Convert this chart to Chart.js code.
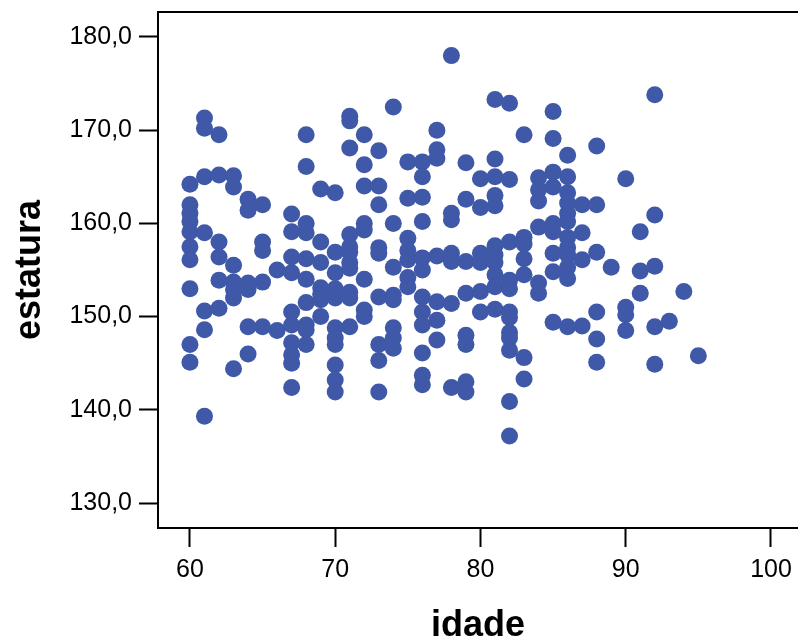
<!DOCTYPE html>
<html>
<head>
<meta charset="utf-8">
<script src="https://cdn.jsdelivr.net/npm/chart.js@4.4.1/dist/chart.umd.min.js"></script>
<style>
  html, body { margin: 0; padding: 0; background: #fff; }
</style>
</head>
<body>
<canvas id="scatterChart" width="798" height="643"></canvas>
<script>
const idade = [
  60, 60, 60, 60, 60, 60, 60, 60, 60, 60,
  61, 61, 61, 61, 61, 61, 61,
  62, 62, 62, 62, 62, 62,
  63, 63, 63, 63, 63, 63, 63,
  64, 64, 64, 64, 64, 64,
  65, 65, 65, 65, 65,
  66, 66,
  67, 67, 67, 67, 67, 67, 67, 67, 67, 67,
  68, 68, 68, 68, 68, 68, 68, 68, 68, 68,
  69, 69, 69, 69, 69, 69, 69,
  70, 70, 70, 70, 70, 70, 70, 70, 70, 70, 70,
  71, 71, 71, 71, 71, 71, 71, 71, 71, 71, 71,
  72, 72, 72, 72, 72, 72, 72, 72,
  73, 73, 73, 73, 73, 73, 73, 73, 73,
  74, 74, 74, 74, 74, 74, 74, 74,
  75, 75, 75, 75, 75, 75, 75,
  76, 76, 76, 76, 76, 76, 76, 76, 76, 76, 76, 76,
  77, 77, 77, 77, 77, 77, 77,
  78, 78, 78, 78, 78, 78, 78,
  79, 79, 79, 79, 79, 79, 79, 79,
  80, 80, 80, 80, 80, 80,
  81, 81, 81, 81, 81, 81, 81, 81, 81, 81, 81,
  82, 82, 82, 82, 82, 82, 82, 82, 82, 82, 82, 82,
  83, 83, 83, 83, 83, 83, 83,
  84, 84, 84, 84, 84, 84,
  85, 85, 85, 85, 85, 85, 85, 85, 85,
  86, 86, 86, 86, 86, 86, 86, 86, 86, 86, 86, 86,
  87, 87, 87, 87,
  88, 88, 88, 88, 88, 88,
  89,
  90, 90, 90, 90,
  91, 91, 91,
  92, 92, 92, 92, 92,
  93,
  94,
  95
];

const estatura = [
  164.2, 162.0, 161.1, 160.2, 159.1, 157.5, 156.1, 153.0, 147.0, 145.1,
  171.3, 170.2, 165.0, 159.0, 150.6, 148.6, 139.3,
  169.5, 165.2, 158.0, 156.4, 153.9, 150.9,
  165.1, 163.9, 155.5, 153.7, 152.9, 152.0, 144.4,
  162.6, 161.4, 153.6, 152.9, 148.9, 146.0,
  162.0, 158.0, 157.1, 153.7, 148.9,
  155.0, 148.5,
  161.0, 159.1, 156.4, 154.7, 150.5, 149.1, 147.2, 145.9, 145.0, 142.4,
  169.5, 166.1, 160.0, 159.0, 156.2, 154.0, 151.5, 149.1, 148.6, 147.0,
  163.7, 158.0, 155.8, 153.1, 152.4, 151.8, 150.0,
  163.3, 156.9, 154.7, 153.0, 152.0, 148.8, 147.7, 147.0, 144.8, 143.2, 141.9,
  171.5, 171.0, 168.1, 158.8, 157.5, 156.9, 155.8, 155.2, 152.6, 152.0, 148.9,
  169.5, 166.3, 164.0, 160.0, 159.3, 154.0, 150.7, 150.0,
  167.8, 164.0, 162.0, 157.4, 156.8, 152.1, 147.0, 145.3, 141.9,
  172.5, 160.0, 155.3, 152.3, 151.8, 148.8, 147.7, 146.6,
  166.6, 162.7, 158.4, 157.1, 156.1, 154.2, 153.2,
  166.6, 165.0, 162.8, 160.2, 156.3, 155.0, 152.1, 150.5, 149.1, 146.1, 143.7, 142.7,
  170.0, 167.9, 167.0, 156.5, 151.6, 149.6, 147.5,
  178.0, 161.1, 160.4, 156.8, 155.9, 151.4, 142.4,
  166.5, 162.6, 155.9, 152.5, 148.0, 147.0, 143.0, 141.9,
  164.8, 161.7, 156.8, 155.8, 152.7, 150.5,
  173.3, 166.9, 165.0, 163.0, 161.9, 157.6, 156.6, 155.8, 154.5, 153.2, 150.8,
  172.9, 164.7, 158.0, 153.9, 153.0, 150.5, 149.9, 148.3, 147.7, 146.4, 140.9, 137.2,
  169.5, 158.5, 157.8, 156.2, 154.5, 145.6, 143.3,
  164.9, 163.6, 162.4, 159.6, 153.6, 152.5,
  172.0, 169.1, 165.5, 163.9, 160.0, 159.1, 156.8, 154.8, 149.4,
  167.3, 165.0, 163.3, 162.2, 161.1, 160.2, 158.5, 157.4, 156.6, 155.3, 154.1, 148.9,
  162.0, 159.0, 156.1, 149.0,
  168.3, 162.0, 156.9, 150.5, 147.6, 145.1,
  155.3,
  164.8, 151.0, 150.2, 148.5,
  159.1, 154.9, 152.5,
  173.8, 160.9, 155.4, 148.9, 144.9,
  149.5,
  152.7,
  145.8
];

const xTicks = [60, 70, 80, 90, 100];
const yTicks = [130, 140, 150, 160, 170, 180];

const pontos = idade.map((x, i) => ({ x: x, y: estatura[i] }));

// top line of the frame (left and bottom come from the axes)
const framePlugin = {
  id: 'frame',
  afterDraw(chart) {
    const { ctx, chartArea } = chart;
    ctx.save();
    ctx.strokeStyle = '#000';
    ctx.lineWidth = 2;
    ctx.beginPath();
    ctx.moveTo(chartArea.left - 1, chartArea.top);
    ctx.lineTo(chart.width, chartArea.top);
    ctx.stroke();
    ctx.restore();
  }
};

const ctx = document.getElementById('scatterChart').getContext('2d');
const scatterChart = new Chart(ctx, {
  type: 'scatter',
  data: {
    datasets: [{
      label: 'estatura',
      data: pontos,
      backgroundColor: 'rgb(63, 88, 168)',
      borderWidth: 0,
      pointRadius: 8.5,
      pointHoverRadius: 8.5
    }]
  },
  options: {
    responsive: false,
    devicePixelRatio: 1,
    animation: false,
    layout: { autoPadding: false, padding: { top: 12, right: 0, left: 0, bottom: 0 } },
    plugins: {
      legend: { display: false },
      tooltip: { enabled: false }
    },
    scales: {
      x: {
        type: 'linear',
        min: 57.8,
        max: 101.86,
        afterBuildTicks: (scale) => { scale.ticks = xTicks.map(v => ({ value: v })); },
        afterFit: (scale) => {
          scale.height = 115;
          scale.paddingLeft = 0;
          scale.paddingRight = 0;
        },
        grid: { drawOnChartArea: false, drawTicks: true, tickLength: 19, tickColor: '#000', tickWidth: 2 },
        border: { display: true, color: '#000', width: 2 },
        ticks: {
          color: '#000',
          padding: 8,
          maxRotation: 0,
          font: { family: 'Liberation Sans', size: 25 }
        },
        title: {
          display: true,
          text: 'idade',
          color: '#000',
          padding: 0,
          font: { family: 'Liberation Sans', size: 36, weight: 'bold', lineHeight: 0.95 }
        }
      },
      y: {
        type: 'linear',
        min: 127.32,
        max: 182.68,
        afterBuildTicks: (scale) => { scale.ticks = yTicks.map(v => ({ value: v })); },
        afterFit: (scale) => {
          scale.width = 158;
          scale.paddingTop = 0;
          scale.paddingBottom = 0;
        },
        grid: { drawOnChartArea: false, drawTicks: true, tickLength: 19, tickColor: '#000', tickWidth: 2 },
        border: { display: true, color: '#000', width: 2 },
        ticks: {
          color: '#000',
          padding: 7,
          font: { family: 'Liberation Sans', size: 25 },
          callback: (v) => v.toFixed(1).replace('.', ',')
        },
        title: {
          display: true,
          text: 'estatura',
          color: '#000',
          padding: { top: 8, bottom: 0 },
          font: { family: 'Liberation Sans', size: 36, weight: 'bold', lineHeight: 1.2 }
        }
      }
    }
  },
  plugins: [framePlugin]
});
</script>
</body>
</html>
